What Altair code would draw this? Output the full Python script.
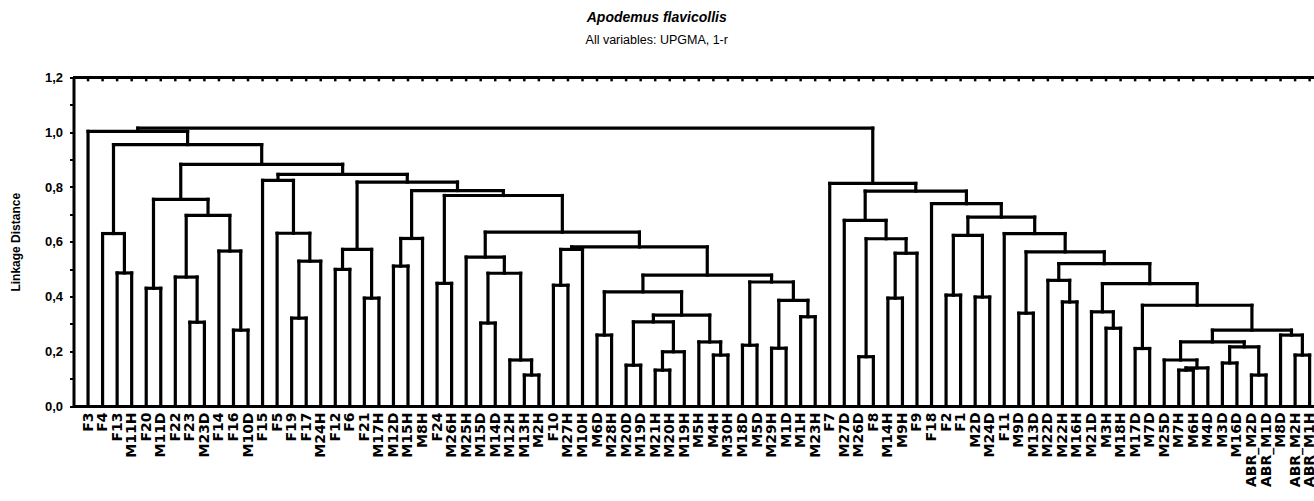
import altair as alt
import pandas as pd

# ---- leaves (left to right) ----
leaf_labels = [
    "F3", "F4", "F13", "M11H", "F20", "M11D", "F22", "F23", "M23D", "F14",
    "F16", "M10D", "F15", "F5", "F19", "F17", "M24H", "F12", "F6", "F21",
    "M17H", "M12D", "M15H", "M8H", "F24", "M26H", "M25H", "M15D", "M14D", "M12H",
    "M13H", "M2H", "F10", "M27H", "M10H", "M6D", "M28H", "M20D", "M19D", "M21H",
    "M20H", "M19H", "M5H", "M4H", "M30H", "M18D", "M5D", "M29H", "M1D", "M1H",
    "M23H", "F7", "M27D", "M26D", "F8", "M14H", "M9H", "F9", "F18", "F2",
    "F1", "M2D", "M24D", "F11", "M9D", "M13D", "M22D", "M22H", "M16H", "M21D",
    "M3H", "M18H", "M17D", "M7D", "M25D", "M7H", "M6H", "M4D", "M3D", "M16D",
    "ABR_M2D", "ABR_M1D", "M8D", "ABR_M2H", "ABR_M1H",
]

# ---- merges (children: leaf index or node id), linkage distances ----
node_ids = [
    "a1", "a2", "b1", "b2", "b3", "b4", "b5", "b6", "b7",
    "c1", "c2", "c3", "c4", "c5", "c6", "c7",
    "d1", "d2", "d3",
    "e1", "e2", "e3", "e4", "e5",
    "f1", "f2",
    "g1", "g2", "g3", "g4", "g5", "g6", "g7", "g8", "g9",
    "h1", "h2", "h3", "h4", "h5", "h6", "h7", "h8",
    "d4", "d5", "d6", "d7", "d8", "d9", "d10",
    "r1", "r2", "r3", "r4", "r5",
    "s1", "s2", "s3",
    "t1", "t2", "t3", "t4", "t5", "t6",
    "u1", "u2", "u3", "u4", "u5", "u6", "u7", "u8", "u9", "u10",
    "u11", "u12", "u13", "u14", "u15", "u16", "u17", "u18", "u19",
    "root",
]
node_children = [
    (2, 3), (1, "a1"), (4, 5), (7, 8), (6, "b2"), (10, 11), (9, "b4"), ("b3", "b5"), ("b1", "b6"),
    (14, 15), ("c1", 16), (13, "c2"), (12, "c3"), (17, 18), (19, 20), ("c5", "c6"),
    (21, 22), ("d1", 23), (24, 25),
    (27, 28), (30, 31), (29, "e2"), ("e1", "e3"), (26, "e4"),
    (32, 33), ("f1", 34),
    (35, 36), (37, 38), (39, 40), ("g3", 41), ("g2", "g4"), (43, 44), (42, "g6"), ("g5", "g7"), ("g1", "g8"),
    (45, 46), (47, 48), (49, 50), ("h2", "h3"), ("h1", "h4"), ("g9", "h5"), ("f2", "h6"), ("e5", "h7"),
    ("d3", "h8"), ("d2", "d4"), ("c7", "d5"), ("c4", "d6"), ("b7", "d7"), ("a2", "d8"), (0, "d9"),
    (53, 54), (55, 56), ("r2", 57), ("r1", "r3"), (52, "r4"),
    (59, 60), (61, 62), ("s1", "s2"),
    (64, 65), (67, 68), (66, "t2"), (70, 71), (69, "t4"), (72, 73),
    (75, 76), ("u1", 77), (74, "u2"), (78, 79), (80, 81), ("u4", "u5"), ("u3", "u6"), (83, 84), (82, "u8"), ("u7", "u9"),
    ("t6", "u10"), ("t5", "u11"), ("t3", "u12"), ("t1", "u13"), (63, "u14"), ("s3", "u15"), (58, "u16"), ("r5", "u17"), (51, "u18"),
    ("d10", "u19"),
]
node_heights = [
    0.486, 0.630, 0.430, 0.306, 0.471, 0.277, 0.566, 0.696, 0.755,
    0.321, 0.529, 0.631, 0.824, 0.499, 0.394, 0.572,
    0.511, 0.612, 0.448,
    0.303, 0.113, 0.168, 0.485, 0.544,
    0.441, 0.572,
    0.259, 0.149, 0.131, 0.198, 0.307, 0.186, 0.234, 0.332, 0.417,
    0.222, 0.211, 0.326, 0.386, 0.453, 0.478, 0.581, 0.635,
    0.769, 0.787, 0.818, 0.846, 0.883, 0.955, 1.003,
    0.180, 0.394, 0.558, 0.611, 0.678,
    0.405, 0.398, 0.623,
    0.339, 0.380, 0.459, 0.284, 0.344, 0.210,
    0.131, 0.139, 0.168, 0.157, 0.113, 0.216, 0.234, 0.186, 0.259, 0.277,
    0.368, 0.447, 0.520, 0.563, 0.630, 0.690, 0.739, 0.785, 0.813,
    1.015,
]

y_tick_values = [0.0, 0.1, 0.2, 0.3, 0.4, 0.5, 0.6, 0.7, 0.8, 0.9, 1.0, 1.1, 1.2]

# ---- build dendrogram segments ----
pos = {i: (float(i), 0.0) for i in range(len(leaf_labels))}
segs = []
for nid, (a, b), h in zip(node_ids, node_children, node_heights):
    xa, ya = pos[a]
    xb, yb = pos[b]
    segs.append({"x": xa, "x2": xb, "y": h, "y2": h})
    segs.append({"x": xa, "x2": xa, "y": ya, "y2": h})
    segs.append({"x": xb, "x2": xb, "y": yb, "y2": h})
    pos[nid] = ((xa + xb) / 2.0, h)
seg_df = pd.DataFrame(segs)

top_ticks = pd.DataFrame({"x": [float(i) for i in range(len(leaf_labels))]})
top_ticks["y"] = 1.2
top_ticks["y2"] = 1.186

label_js = "[" + ",".join("'" + s + "'" for s in leaf_labels) + "]"

W = 1240.5
H = 328.5

x_enc = alt.X(
    "x:Q",
    scale=alt.Scale(domain=[-1, 84.3], nice=False, zero=False),
    axis=alt.Axis(
        values=list(range(len(leaf_labels))),
        labelExpr=label_js + "[datum.value]",
        labelAngle=270,
        labelAlign="right",
        labelBaseline="middle",
        labelFont="DejaVu Sans",
        labelFontWeight="bold",
        labelFontSize=14,
        labelColor="black",
        labelPadding=6,
        labelOverlap=False,
        labelFlush=False,
        labelBound=False,
        labelSeparation=0,
        ticks=False,
        domain=True,
        domainColor="black",
        domainWidth=3,
        grid=False,
        title=None,
    ),
)
y_enc = alt.Y(
    "y:Q",
    scale=alt.Scale(domain=[0, 1.2], nice=False, zero=False),
    axis=alt.Axis(
        values=y_tick_values,
        labelExpr="round(datum.value*10) % 2 == 0 ? replace(format(datum.value, '.1f'), '.', ',') : ''",
        labelFont="Liberation Sans",
        labelFontWeight="bold",
        labelFontSize=13,
        labelColor="black",
        labelPadding=7,
        labelOverlap=False,
        tickSize=4,
        tickWidth=2,
        tickColor="black",
        domain=True,
        domainColor="black",
        domainWidth=3,
        grid=False,
        title="Linkage Distance",
        titleFont="Liberation Sans",
        titleFontWeight="bold",
        titleFontSize=12,
        titleColor="black",
        titlePadding=22,
    ),
)

dendro = alt.Chart(seg_df).mark_rule(
    color="black", strokeWidth=3.2, strokeCap="square"
).encode(x=x_enc, x2="x2:Q", y=y_enc, y2="y2:Q")

ticks_top = alt.Chart(top_ticks).mark_rule(
    color="black", strokeWidth=2.5
).encode(x=x_enc, y=y_enc, y2="y2:Q")

top_border = alt.Chart(top_ticks).mark_rule(color="black", strokeWidth=3).encode(
    x=alt.value(0), x2=alt.value(W), y=alt.value(0)
)

chart = alt.layer(dendro, ticks_top, top_border).properties(
    width=W,
    height=H,
    autosize=alt.AutoSizeParams(type="none"),
    padding={"left": 73.5, "top": 77.5, "right": 0, "bottom": 95},
    title=alt.TitleParams(
        text="Apodemus flavicollis",
        subtitle="All variables: UPGMA, 1-r",
        anchor="middle",
        dx=-37,
        offset=25,
        font="Liberation Sans",
        fontSize=14,
        fontWeight="bold",
        fontStyle="italic",
        color="black",
        subtitleFont="Liberation Sans",
        subtitleFontSize=12.5,
        subtitleColor="black",
        subtitlePadding=9,
    ),
).configure_view(stroke=None).configure(background="white").configure_axisX(
    labelOverlap=False, labelSeparation=0
)

chart.save("out.html", embed_options={"renderer": "svg", "actions": False})
